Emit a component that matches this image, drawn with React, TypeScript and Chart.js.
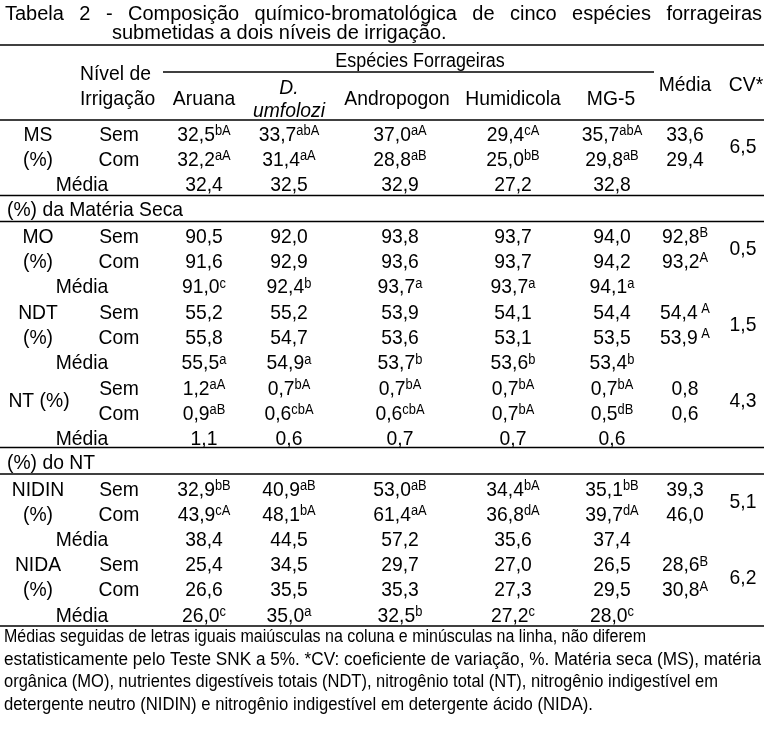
import React, { useEffect, useRef } from "react";
import { Chart, registerables } from "chart.js";

Chart.register(...registerables);

// ---------------- DATA ----------------
const TITLE_LINE1 = "Tabela 2 - Composição químico-bromatológica de cinco espécies forrageiras";
const TITLE_LINE2 = "submetidas a dois níveis de irrigação.";
const GROUP_HEADER = "Espécies Forrageiras";
const LEVEL_HEADER = ["Nível de", "Irrigação"];
const SPECIES = ["Aruana", "D. umfolozi", "Andropogon", "Humidicola", "MG-5"];
const SPECIES_ITALIC = [false, true, false, false, false];
const MEAN_HEADER = "Média";
const CV_HEADER = "CV*";
const LEVELS = ["Sem", "Com"];
const MEAN_ROW_LABEL = "Média";
const SECTIONS = ["(%) da Matéria Seca", "(%) do NT"];

const VAR_LABELS = [["MS", "(%)"], ["MO", "(%)"], ["NDT", "(%)"], ["NT (%)"], ["NIDIN", "(%)"], ["NIDA", "(%)"]];

// MS
const MS_SEM = [32.5, 33.7, 37.0, 29.4, 35.7];
const MS_SEM_SUP = ["bA", "abA", "aA", "cA", "abA"];
const MS_COM = [32.2, 31.4, 28.8, 25.0, 29.8];
const MS_COM_SUP = ["aA", "aA", "aB", "bB", "aB"];
const MS_MEDIA = [32.4, 32.5, 32.9, 27.2, 32.8];
const MS_MEDIA_SUP = ["", "", "", "", ""];
const MS_LEVEL_MEAN = [33.6, 29.4];
const MS_LEVEL_SUP = ["", ""];
const MS_CV = 6.5;

// MO
const MO_SEM = [90.5, 92.0, 93.8, 93.7, 94.0];
const MO_SEM_SUP = ["", "", "", "", ""];
const MO_COM = [91.6, 92.9, 93.6, 93.7, 94.2];
const MO_COM_SUP = ["", "", "", "", ""];
const MO_MEDIA = [91.0, 92.4, 93.7, 93.7, 94.1];
const MO_MEDIA_SUP = ["c", "b", "a", "a", "a"];
const MO_LEVEL_MEAN = [92.8, 93.2];
const MO_LEVEL_SUP = ["B", "A"];
const MO_CV = 0.5;

// NDT
const NDT_SEM = [55.2, 55.2, 53.9, 54.1, 54.4];
const NDT_SEM_SUP = ["", "", "", "", ""];
const NDT_COM = [55.8, 54.7, 53.6, 53.1, 53.5];
const NDT_COM_SUP = ["", "", "", "", ""];
const NDT_MEDIA = [55.5, 54.9, 53.7, 53.6, 53.4];
const NDT_MEDIA_SUP = ["a", "a", "b", "b", "b"];
const NDT_LEVEL_MEAN = [54.4, 53.9];
const NDT_LEVEL_SUP = [" A", " A"];
const NDT_CV = 1.5;

// NT
const NT_SEM = [1.2, 0.7, 0.7, 0.7, 0.7];
const NT_SEM_SUP = ["aA", "bA", "bA", "bA", "bA"];
const NT_COM = [0.9, 0.6, 0.6, 0.7, 0.5];
const NT_COM_SUP = ["aB", "cbA", "cbA", "bA", "dB"];
const NT_MEDIA = [1.1, 0.6, 0.7, 0.7, 0.6];
const NT_MEDIA_SUP = ["", "", "", "", ""];
const NT_LEVEL_MEAN = [0.8, 0.6];
const NT_LEVEL_SUP = ["", ""];
const NT_CV = 4.3;

// NIDIN
const NIDIN_SEM = [32.9, 40.9, 53.0, 34.4, 35.1];
const NIDIN_SEM_SUP = ["bB", "aB", "aB", "bA", "bB"];
const NIDIN_COM = [43.9, 48.1, 61.4, 36.8, 39.7];
const NIDIN_COM_SUP = ["cA", "bA", "aA", "dA", "dA"];
const NIDIN_MEDIA = [38.4, 44.5, 57.2, 35.6, 37.4];
const NIDIN_MEDIA_SUP = ["", "", "", "", ""];
const NIDIN_LEVEL_MEAN = [39.3, 46.0];
const NIDIN_LEVEL_SUP = ["", ""];
const NIDIN_CV = 5.1;

// NIDA
const NIDA_SEM = [25.4, 34.5, 29.7, 27.0, 26.5];
const NIDA_SEM_SUP = ["", "", "", "", ""];
const NIDA_COM = [26.6, 35.5, 35.3, 27.3, 29.5];
const NIDA_COM_SUP = ["", "", "", "", ""];
const NIDA_MEDIA = [26.0, 35.0, 32.5, 27.2, 28.0];
const NIDA_MEDIA_SUP = ["c", "a", "b", "c", "c"];
const NIDA_LEVEL_MEAN = [28.6, 30.8];
const NIDA_LEVEL_SUP = ["B", "A"];
const NIDA_CV = 6.2;

const FOOTNOTE = [
  "Médias seguidas de letras iguais maiúsculas na coluna e minúsculas na linha, não diferem",
  "estatisticamente pelo Teste SNK a 5%. *CV: coeficiente de variação, %. Matéria seca (MS), matéria",
  "orgânica (MO), nutrientes digestíveis totais (NDT), nitrogênio total (NT), nitrogênio indigestível em",
  "detergente neutro (NIDIN) e nitrogênio indigestível em detergente ácido (NIDA).",
];

// ---------------- LAYOUT ----------------
const W = 764;
const H = 732;
const FONT = "'Liberation Sans', Arial, sans-serif";
const X_COLS = [204, 289, 400, 513, 612];
const X_HEAD = [204, 289, 397, 513, 611];
const X_MEAN = 685;
const X_CV = 743;
const X_VAR = 38;
const X_LEVEL = 119;
const X_MEDIA_LBL = 82;
const Y_BLOCKS = [133, 235, 311, 387, 488, 563.5];
const ROW_STEP = 25.4;
const Y_SECTIONS = [208.5, 461.5];
const RULES = [45, 120, 195.5, 221.5, 447.5, 474, 626];
const SUB_RULE = { y: 72, x0: 163, x1: 654 };
const GROUP_X = 420;
const FOOT_X = 4;
const FOOT_RIGHT = [646, 761, 718, 593];
const FOOT_Y = [636, 658.5, 681, 703.5];

type Style = { size: number; sx: number; align: "center" | "left"; italic?: boolean; supSize?: number };
const BODY: Style = { size: 21, sx: 0.92, align: "center", supSize: 14 };
const BODY_LEFT: Style = { size: 21, sx: 0.92, align: "left" };
const HEAD: Style = { size: 21, sx: 0.92, align: "center" };
const HEAD_IT: Style = { size: 21, sx: 0.92, align: "center", italic: true };
const GROUP: Style = { size: 19.5, sx: 0.92, align: "center" };
const FOOT_SIZE = 17.5;

const fmt = (v: number) => v.toFixed(1).replace(".", ",");

type Blk = {
  sem: number[]; semSup: string[]; com: number[]; comSup: string[];
  media: number[]; mediaSup: string[]; lvl: number[]; lvlSup: string[]; cv: number;
};
const BLOCKS: Blk[] = [
  { sem: MS_SEM, semSup: MS_SEM_SUP, com: MS_COM, comSup: MS_COM_SUP, media: MS_MEDIA, mediaSup: MS_MEDIA_SUP, lvl: MS_LEVEL_MEAN, lvlSup: MS_LEVEL_SUP, cv: MS_CV },
  { sem: MO_SEM, semSup: MO_SEM_SUP, com: MO_COM, comSup: MO_COM_SUP, media: MO_MEDIA, mediaSup: MO_MEDIA_SUP, lvl: MO_LEVEL_MEAN, lvlSup: MO_LEVEL_SUP, cv: MO_CV },
  { sem: NDT_SEM, semSup: NDT_SEM_SUP, com: NDT_COM, comSup: NDT_COM_SUP, media: NDT_MEDIA, mediaSup: NDT_MEDIA_SUP, lvl: NDT_LEVEL_MEAN, lvlSup: NDT_LEVEL_SUP, cv: NDT_CV },
  { sem: NT_SEM, semSup: NT_SEM_SUP, com: NT_COM, comSup: NT_COM_SUP, media: NT_MEDIA, mediaSup: NT_MEDIA_SUP, lvl: NT_LEVEL_MEAN, lvlSup: NT_LEVEL_SUP, cv: NT_CV },
  { sem: NIDIN_SEM, semSup: NIDIN_SEM_SUP, com: NIDIN_COM, comSup: NIDIN_COM_SUP, media: NIDIN_MEDIA, mediaSup: NIDIN_MEDIA_SUP, lvl: NIDIN_LEVEL_MEAN, lvlSup: NIDIN_LEVEL_SUP, cv: NIDIN_CV },
  { sem: NIDA_SEM, semSup: NIDA_SEM_SUP, com: NIDA_COM, comSup: NIDA_COM_SUP, media: NIDA_MEDIA, mediaSup: NIDA_MEDIA_SUP, lvl: NIDA_LEVEL_MEAN, lvlSup: NIDA_LEVEL_SUP, cv: NIDA_CV },
];

function textSet(points: [number, number][], texts: string[], style: Style | Style[], sups?: string[]) {
  return {
    data: points.map(([x, y]) => ({ x, y })),
    texts, sups: sups || texts.map(() => ""),
    styles: Array.isArray(style) ? style : texts.map(() => style),
    pointRadius: 0, pointHoverRadius: 0, showLine: false,
  } as any;
}

function footStyles(): Style[] {
  // each footnote line fitted to its width in the reference
  const c = document.createElement("canvas").getContext("2d")!;
  c.font = `${FOOT_SIZE}px ${FONT}`;
  return FOOTNOTE.map((t, i) => ({
    size: FOOT_SIZE,
    sx: (FOOT_RIGHT[i] - FOOT_X) / c.measureText(t).width,
    align: "left" as const,
  }));
}

function buildDatasets() {
  const ds: any[] = [];
  ds.push(textSet([[GROUP_X, 60]], [GROUP_HEADER], GROUP));
  ds.push(textSet([[80, 72], [80, 97]], LEVEL_HEADER, { ...HEAD, align: "left" }));
  SPECIES.forEach((s, i) => {
    if (SPECIES_ITALIC[i]) {
      const parts = s.split(" ");
      ds.push(textSet([[X_HEAD[i], 86], [X_HEAD[i], 109]], parts, HEAD_IT));
    } else {
      ds.push(textSet([[X_HEAD[i], 97]], [s], HEAD));
    }
  });
  ds.push(textSet([[X_MEAN, 83], [X_CV + 3, 83]], [MEAN_HEADER, CV_HEADER], HEAD));
  ds.push(textSet(Y_SECTIONS.map((y) => [7, y] as [number, number]), SECTIONS, BODY_LEFT));
  BLOCKS.forEach((b, k) => {
    const y0 = Y_BLOCKS[k];
    const ys = [y0, y0 + ROW_STEP, y0 + 2 * ROW_STEP];
    const lab = VAR_LABELS[k];
    if (lab.length === 2) {
      ds.push(textSet([[X_VAR, ys[0]], [X_VAR, ys[1]]], lab, BODY));
    } else {
      ds.push(textSet([[X_VAR + 1, (ys[0] + ys[1]) / 2]], lab, BODY));
    }
    ds.push(textSet([[X_LEVEL, ys[0]], [X_LEVEL, ys[1]]], LEVELS, BODY));
    ds.push(textSet([[X_MEDIA_LBL, ys[2]]], [MEAN_ROW_LABEL], BODY));
    ds.push(textSet(X_COLS.map((x) => [x, ys[0]] as [number, number]), b.sem.map(fmt), BODY, b.semSup));
    ds.push(textSet(X_COLS.map((x) => [x, ys[1]] as [number, number]), b.com.map(fmt), BODY, b.comSup));
    ds.push(textSet(X_COLS.map((x) => [x, ys[2]] as [number, number]), b.media.map(fmt), BODY, b.mediaSup));
    ds.push(textSet([[X_MEAN, ys[0]], [X_MEAN, ys[1]]], b.lvl.map(fmt), BODY, b.lvlSup));
    ds.push(textSet([[X_CV, (ys[0] + ys[1]) / 2]], [fmt(b.cv)], BODY));
  });
  ds.push(textSet(FOOT_Y.map((y) => [FOOT_X, y] as [number, number]), FOOTNOTE, footStyles()));
  return ds;
}

function fontStr(size: number, italic?: boolean) {
  return `${italic ? "italic " : ""}${size}px ${FONT}`;
}

function drawCell(ctx: CanvasRenderingContext2D, text: string, sup: string, x: number, y: number, st: Style) {
  ctx.save();
  ctx.font = fontStr(st.size, st.italic);
  const mw = ctx.measureText(text).width * st.sx;
  let sw = 0;
  const supSize = st.supSize || 14;
  if (sup) {
    ctx.font = fontStr(supSize);
    sw = ctx.measureText(sup).width * st.sx;
  }
  const total = mw + sw;
  const startX = st.align === "center" ? x - total / 2 : x;
  const base = y + 0.358 * st.size;
  ctx.fillStyle = "#000";
  ctx.textBaseline = "alphabetic";
  ctx.textAlign = "left";
  ctx.translate(startX, base);
  ctx.scale(st.sx, 1);
  ctx.font = fontStr(st.size, st.italic);
  ctx.fillText(text, 0, 0);
  if (sup) {
    ctx.font = fontStr(supSize);
    const supBase = -0.716 * st.size + 0.716 * supSize - 0.5;
    ctx.fillText(sup, mw / st.sx, supBase);
  }
  ctx.restore();
}

const tablePlugin = {
  id: "tableText",
  afterDatasetsDraw(chart: any) {
    const ctx: CanvasRenderingContext2D = chart.ctx;
    const xs = chart.scales.x;
    const ys = chart.scales.y;
    // title (line 1 justified)
    ctx.save();
    ctx.fillStyle = "#000";
    ctx.font = fontStr(20);
    ctx.textBaseline = "alphabetic";
    const words = TITLE_LINE1.split(" ");
    const widths = words.map((w) => ctx.measureText(w).width);
    const left = xs.getPixelForValue(5);
    const right = xs.getPixelForValue(762);
    const gap = (right - left - widths.reduce((a, b) => a + b, 0)) / (words.length - 1);
    let cx = left;
    const b1 = ys.getPixelForValue(19.5);
    words.forEach((w, i) => {
      ctx.fillText(w, cx, b1);
      cx += widths[i] + gap;
    });
    ctx.fillText(TITLE_LINE2, xs.getPixelForValue(112), ys.getPixelForValue(38.5));
    ctx.restore();

    // rules
    ctx.save();
    ctx.strokeStyle = "#000";
    ctx.lineWidth = 1.6;
    RULES.forEach((r) => {
      const py = ys.getPixelForValue(r);
      ctx.beginPath();
      ctx.moveTo(xs.getPixelForValue(0), py);
      ctx.lineTo(xs.getPixelForValue(W), py);
      ctx.stroke();
    });
    const sy = ys.getPixelForValue(SUB_RULE.y);
    ctx.lineWidth = 1.3;
    ctx.beginPath();
    ctx.moveTo(xs.getPixelForValue(SUB_RULE.x0), sy);
    ctx.lineTo(xs.getPixelForValue(SUB_RULE.x1), sy);
    ctx.stroke();
    ctx.restore();

    // cells
    chart.data.datasets.forEach((d: any, i: number) => {
      const meta = chart.getDatasetMeta(i);
      meta.data.forEach((el: any, j: number) => {
        drawCell(ctx, d.texts[j], d.sups[j], el.x, el.y, d.styles[j]);
      });
    });
  },
};

export default function App() {
  const ref = useRef<HTMLCanvasElement | null>(null);
  useEffect(() => {
    document.body.style.margin = "0";
    document.body.style.background = "#fff";
    if (!ref.current) return;
    const chart = new Chart(ref.current, {
      type: "scatter",
      data: { datasets: buildDatasets() },
      options: {
        animation: false,
        responsive: false,
        maintainAspectRatio: false,
        devicePixelRatio: 1,
        layout: { padding: 0 },
        events: [],
        plugins: { legend: { display: false }, tooltip: { enabled: false }, title: { display: false } },
        scales: {
          x: { type: "linear", min: 0, max: W, display: false },
          y: { type: "linear", min: 0, max: H, reverse: true, display: false },
        },
      },
      plugins: [tablePlugin],
    } as any);
    return () => chart.destroy();
  }, []);
  return (
    <div style={{ width: W, height: H, background: "#fff" }}>
      <canvas ref={ref} width={W} height={H} style={{ display: "block" }} />
    </div>
  );
}
